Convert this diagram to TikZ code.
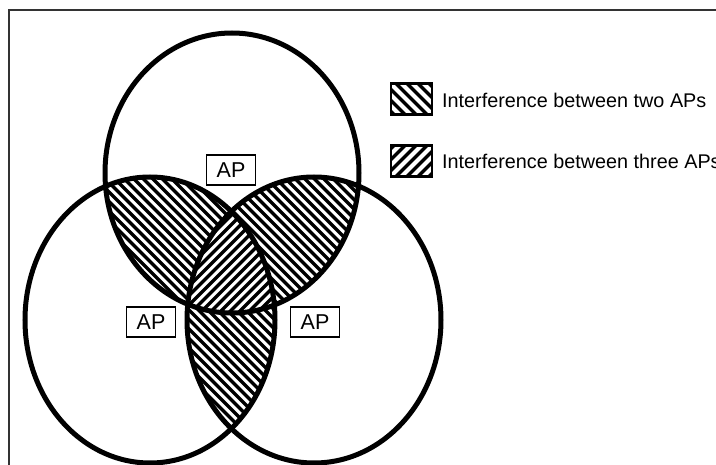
\documentclass[tikz,border=0pt]{standalone}
\usepackage{fontspec}
\setmainfont{Liberation Sans}
\usetikzlibrary{calc}
\begin{document}
\begin{tikzpicture}[x=1pt,y=-1pt,
  venn/.style={line width=5pt,draw=black},
  hatchline/.style={line width=3.2pt,black},
  apbox/.style={draw=black,line width=1.6pt,fill=white,minimum width=49pt,minimum height=30pt,inner sep=0pt,font=\fontsize{21.5}{24}\selectfont},
  legtext/.style={anchor=west,inner sep=0pt,font=\fontsize{19.8}{24}\selectfont},
  legbox/.style={draw=black,line width=2.2pt,minimum width=41pt,minimum height=31pt,inner sep=0pt}]
\useasboundingbox (0,0) rectangle (716,465);
\begin{scope}
\clip (0,0) rectangle (716,465);
\draw[line width=2pt,black!80] (9,10) rectangle (760,520);
\end{scope}
\def\pT{(232,173) ellipse [x radius=127,y radius=140]}
\def\pL{(150,320) ellipse [x radius=125,y radius=143]}
\def\pR{(314,320) ellipse [x radius=127,y radius=143]}
% pairwise regions
\begin{scope}\clip \pT; \clip \pL;
\foreach \i in {-520,-510.5,...,480} \draw[hatchline] (\i,0) -- ++(520,520);
\end{scope}
\begin{scope}\clip \pT; \clip \pR;
\foreach \i in {-520,-510.5,...,480} \draw[hatchline] (\i,0) -- ++(520,520);
\end{scope}
\begin{scope}\clip \pL; \clip \pR;
\foreach \i in {-520,-510.5,...,480} \draw[hatchline] (\i,0) -- ++(520,520);
\end{scope}
% triple region
\begin{scope}\clip \pT; \clip \pL; \clip \pR;
\fill[white] (0,0) rectangle (716,465);
\foreach \i in {0,9.5,...,1000} \draw[hatchline] (\i,0) -- ++(-520,520);
\end{scope}
\draw[venn] \pT;
\draw[venn] \pL;
\draw[venn] \pR;
\node[apbox] (apT) at (231,170) {AP};
\node[apbox] (apL) at (151,322) {AP};
\node[apbox] (apR) at (315,322) {AP};
% legend
\node[legbox,path picture={
  \foreach \k in {-5,...,5}
    \draw[line width=3.2pt] ($(path picture bounding box.center)+(\k*11,0)+(-30,-30)$) -- ++(60,60);
}] (lb1) at (411.5,99) {};
\node[legbox,path picture={
  \foreach \k in {-5,...,5}
    \draw[line width=3.2pt] ($(path picture bounding box.center)+(\k*11,0)+(30,-30)$) -- ++(-60,60);
}] (lb2) at (411.5,161) {};
\node[legtext] (lt1) at (442,100) {Interference between two APs};
\node[legtext] (lt2) at (442,161) {Interference between three APs};
\end{tikzpicture}
\end{document}
